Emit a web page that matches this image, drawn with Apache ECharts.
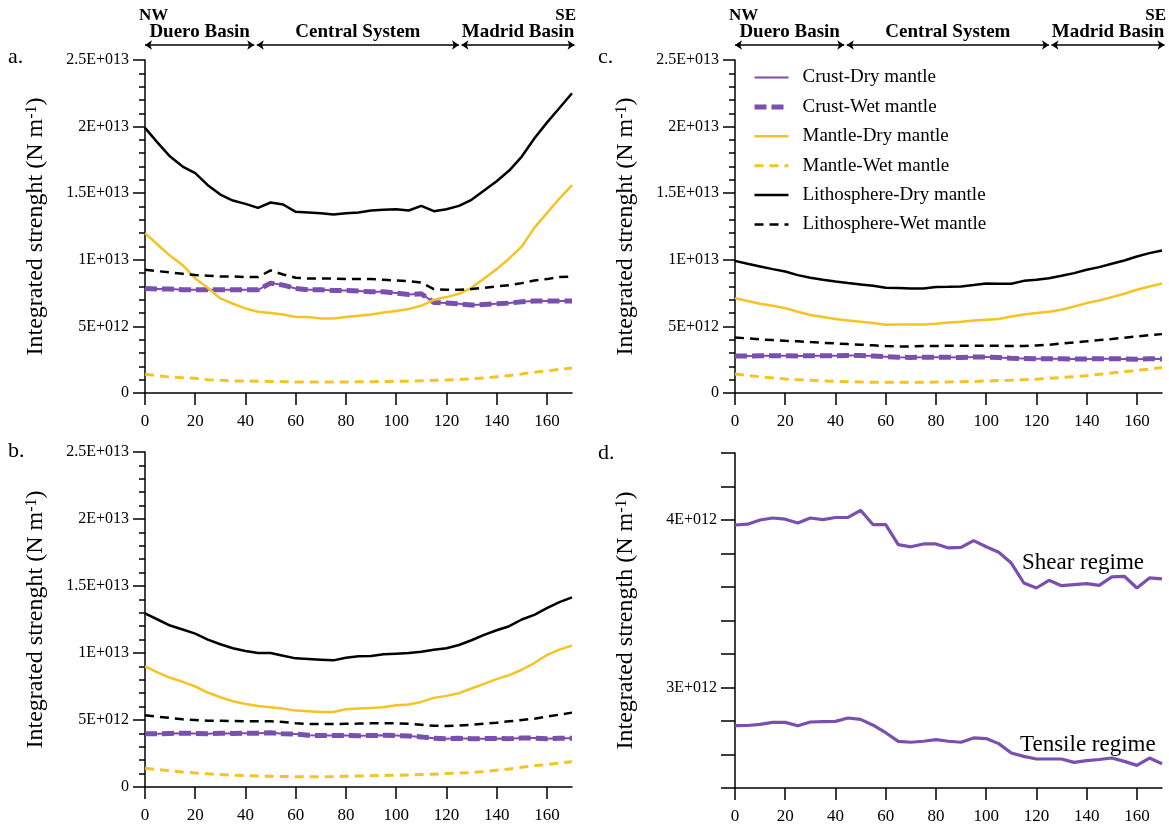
<!DOCTYPE html>
<html><head><meta charset="utf-8">
<script src="https://cdn.jsdelivr.net/npm/echarts@6/dist/echarts.min.js"></script>
<style>html,body{margin:0;padding:0;background:#fff}#c{width:1169px;height:831px}</style>
</head><body><div id="c"></div>
<script>
// ---------- data (strength values in units of 1E+012 N/m) ----------
const distanceKm = [0,5,10,15,20,25,30,35,40,45,50,55,60,65,70,75,80,85,90,95,100,105,110,115,120,125,130,135,140,145,150,155,160,165,170];
const seriesNames = ['Crust-Dry mantle','Crust-Wet mantle','Mantle-Dry mantle','Mantle-Wet mantle','Lithosphere-Dry mantle','Lithosphere-Wet mantle'];

// panel a
const aCrust     = [7.85,7.8,7.8,7.75,7.75,7.75,7.75,7.75,7.75,7.75,8.25,8.1,7.85,7.75,7.75,7.7,7.7,7.65,7.6,7.6,7.5,7.4,7.45,6.8,6.75,6.7,6.6,6.65,6.7,6.75,6.85,6.9,6.9,6.9,6.9];
const aMantleDry = [12.0,11.15,10.3,9.6,8.6,7.9,7.1,6.7,6.35,6.1,6.0,5.9,5.7,5.7,5.6,5.6,5.7,5.8,5.9,6.05,6.15,6.3,6.55,7.0,7.2,7.45,7.9,8.6,9.3,10.1,11.0,12.4,13.5,14.6,15.6];
const aMantleWet = [1.4,1.3,1.2,1.15,1.1,1.0,0.95,0.9,0.9,0.88,0.87,0.85,0.83,0.82,0.82,0.82,0.83,0.84,0.85,0.86,0.87,0.89,0.92,0.95,0.98,1.02,1.07,1.13,1.22,1.32,1.43,1.55,1.66,1.77,1.88];
const aLithDry   = [19.9,18.8,17.75,17.0,16.5,15.6,14.9,14.45,14.2,13.9,14.3,14.15,13.6,13.55,13.5,13.4,13.5,13.55,13.7,13.75,13.8,13.7,14.05,13.65,13.8,14.05,14.5,15.2,15.9,16.7,17.75,19.1,20.3,21.4,22.5];
const aLithWet   = [9.25,9.15,9.05,8.95,8.85,8.8,8.75,8.75,8.7,8.7,9.2,8.9,8.65,8.6,8.6,8.6,8.55,8.55,8.55,8.5,8.45,8.4,8.3,7.8,7.75,7.75,7.8,7.9,8.0,8.1,8.25,8.45,8.55,8.7,8.75];
// panel b
const bCrust     = [3.97,3.97,4.0,4.01,4.0,3.98,4.01,4.0,4.01,4.02,4.04,3.97,3.95,3.86,3.84,3.85,3.85,3.83,3.84,3.86,3.84,3.8,3.74,3.63,3.6,3.63,3.61,3.61,3.62,3.61,3.65,3.65,3.6,3.64,3.64];
const bMantleDry = [9.0,8.55,8.15,7.85,7.5,7.05,6.7,6.4,6.2,6.05,5.95,5.85,5.7,5.65,5.6,5.6,5.8,5.85,5.9,5.95,6.1,6.15,6.35,6.65,6.8,7.0,7.35,7.7,8.05,8.35,8.75,9.25,9.85,10.25,10.55];
const bMantleWet = [1.4,1.3,1.2,1.12,1.05,0.98,0.93,0.88,0.85,0.82,0.8,0.78,0.77,0.77,0.77,0.78,0.8,0.82,0.84,0.86,0.88,0.9,0.93,0.96,1.0,1.04,1.08,1.15,1.25,1.35,1.47,1.58,1.68,1.78,1.89];
const bLithDry   = [12.95,12.5,12.05,11.75,11.45,11.0,10.65,10.35,10.15,10.0,10.0,9.8,9.6,9.55,9.5,9.45,9.65,9.75,9.78,9.9,9.95,10.0,10.1,10.25,10.35,10.6,10.95,11.35,11.7,12.0,12.5,12.85,13.35,13.8,14.15];
const bLithWet   = [5.35,5.25,5.15,5.05,5.0,4.95,4.95,4.92,4.9,4.9,4.9,4.85,4.75,4.7,4.7,4.7,4.72,4.73,4.75,4.75,4.75,4.72,4.65,4.57,4.55,4.58,4.65,4.72,4.8,4.9,5.0,5.1,5.25,5.4,5.55];
// panel c
const cCrust     = [2.78,2.78,2.79,2.8,2.8,2.78,2.8,2.8,2.8,2.82,2.81,2.78,2.73,2.68,2.67,2.68,2.69,2.68,2.67,2.7,2.7,2.67,2.61,2.59,2.57,2.57,2.57,2.55,2.56,2.57,2.58,2.56,2.54,2.58,2.55];
const cMantleDry = [7.12,6.9,6.7,6.55,6.37,6.1,5.85,5.7,5.55,5.45,5.35,5.25,5.12,5.15,5.15,5.15,5.2,5.3,5.35,5.45,5.5,5.55,5.75,5.9,6.0,6.1,6.25,6.5,6.75,6.95,7.2,7.45,7.75,8.0,8.22];
const cMantleWet = [1.42,1.32,1.22,1.13,1.05,1.0,0.95,0.9,0.87,0.85,0.83,0.81,0.8,0.8,0.8,0.81,0.82,0.83,0.85,0.87,0.9,0.93,0.96,1.0,1.04,1.1,1.16,1.23,1.3,1.4,1.5,1.6,1.7,1.8,1.92];
const cLithDry   = [9.92,9.7,9.5,9.3,9.12,8.85,8.65,8.5,8.37,8.25,8.15,8.05,7.9,7.88,7.85,7.85,7.95,7.97,8.0,8.1,8.22,8.2,8.2,8.42,8.5,8.62,8.8,9.0,9.25,9.45,9.7,9.95,10.25,10.5,10.7];
const cLithWet   = [4.17,4.1,4.02,3.97,3.92,3.88,3.82,3.77,3.72,3.67,3.63,3.58,3.52,3.5,3.5,3.52,3.53,3.55,3.55,3.55,3.55,3.55,3.52,3.53,3.57,3.62,3.72,3.8,3.88,3.97,4.05,4.15,4.25,4.35,4.42];
// panel d
const dShear     = [3.97,3.975,4.0,4.012,4.005,3.982,4.012,4.002,4.015,4.016,4.058,3.972,3.972,3.853,3.84,3.857,3.857,3.833,3.837,3.877,3.84,3.807,3.743,3.624,3.594,3.64,3.608,3.614,3.62,3.61,3.66,3.664,3.594,3.654,3.648];
const dTensile   = [2.772,2.773,2.78,2.792,2.792,2.772,2.794,2.796,2.798,2.818,2.81,2.775,2.73,2.678,2.673,2.679,2.689,2.679,2.673,2.699,2.695,2.665,2.609,2.589,2.573,2.573,2.573,2.553,2.563,2.57,2.579,2.559,2.535,2.579,2.545];

// tick labels
const xTickValues = [0,20,40,60,80,100,120,140,160];
const yTickValues = [0,5,10,15,20,25];
const yTickLabels = ['0','5E+012','1E+013','1.5E+013','2E+013','2.5E+013'];
const dTickValues = [3,4];
const dTickLabels = ['3E+012','4E+012'];

// header regions
const regionNames  = ['Duero Basin','Central System','Madrid Basin'];
const regionStarts = [0, 44.5, 126];
const regionEnds   = [43.5, 125, 171];
const panelLetters = ['a.','b.','c.','d.'];

// ---------- styles ----------
const FF = "'Liberation Serif','Times New Roman',serif";
const PURPLE = '#7b4fae';
const YELLOW = '#f5c324';
const lineStyles = {
  'Crust-Dry mantle':       {color: PURPLE, width: 2,   type: 'solid'},
  'Crust-Wet mantle':       {color: PURPLE, width: 5,   type: [12, 5]},
  'Mantle-Dry mantle':      {color: YELLOW, width: 2.5, type: 'solid'},
  'Mantle-Wet mantle':      {color: YELLOW, width: 3,   type: [9, 6]},
  'Lithosphere-Dry mantle': {color: '#000', width: 2.5, type: 'solid'},
  'Lithosphere-Wet mantle': {color: '#000', width: 2.5, type: [9, 6]},
  'Shear regime':           {color: PURPLE, width: 3.2, type: 'solid'},
  'Tensile regime':         {color: PURPLE, width: 3.2, type: 'solid'}
};

const PX_PER_KM = 427 / 170;
const grids = [
  {left: 145 - PX_PER_KM, top: 40, width: PX_PER_KM * 173, height: 10},   // 0 header a
  {left: 145, top: 60, width: 427, height: 333},                          // 1 a
  {left: 145, top: 452, width: 427, height: 335},                         // 2 b
  {left: 735 - PX_PER_KM, top: 40, width: PX_PER_KM * 173, height: 10},   // 3 header c
  {left: 735, top: 60, width: 427, height: 333},                          // 4 c
  {left: 735, top: 453, width: 427, height: 335}                          // 5 d
];

const black = {color: '#000', width: 1.5};
function xAxisMain(gi) {
  return {type: 'value', gridIndex: gi, min: 0, max: 170,
    axisLine: {show: true, onZero: false, lineStyle: black},
    axisTick: {show: true, length: 12, customValues: xTickValues, lineStyle: black},
    axisLabel: {customValues: xTickValues, margin: 20, color: '#000', fontFamily: FF, fontSize: 17},
    splitLine: {show: false}};
}
function xAxisHeader(gi) {
  return {type: 'value', gridIndex: gi, min: -1, max: 172, show: false};
}
function yAxisHeader(gi) {
  return {type: 'value', gridIndex: gi, min: 0, max: 1, show: false};
}
function nameRich(word) {
  return {
    name: '{t|Integrated ' + word + ' (N m}{s|-1}{t|)}',
    nameLocation: 'middle', nameGap: 97, nameRotate: 90,
    nameTextStyle: {color: '#000', fontFamily: FF, fontSize: 24,
      rich: {t: {fontFamily: FF, fontSize: 24, color: '#000'},
             s: {fontFamily: FF, fontSize: 16, color: '#000', verticalAlign: 'top'}}}
  };
}
function yAxisMain(gi) {
  return Object.assign({type: 'value', gridIndex: gi, min: 0, max: 25, interval: 5,
    axisLine: {show: true, lineStyle: black},
    axisTick: {show: true, length: 12, lineStyle: black},
    minorTick: {show: true, splitNumber: 5, length: 6, lineStyle: black},
    splitLine: {show: false}, minorSplitLine: {show: false},
    axisLabel: {margin: 16, color: '#000', fontFamily: FF, fontSize: 16,
      formatter: v => { const i = yTickValues.findIndex(t => Math.abs(t - v) < 1e-6); return i >= 0 ? yTickLabels[i] : ''; }}
  }, nameRich('strenght'));
}
function yAxisD(gi) {
  return Object.assign({type: 'value', gridIndex: gi, min: 2.4, max: 4.4, interval: 0.2,
    axisLine: {show: true, lineStyle: black},
    axisTick: {show: true, length: 14, lineStyle: black},
    splitLine: {show: false},
    axisLabel: {margin: 18, color: '#000', fontFamily: FF, fontSize: 16,
      formatter: v => { const i = dTickValues.findIndex(t => Math.abs(t - v) < 1e-6); return i >= 0 ? dTickLabels[i] : ''; }}
  }, nameRich('strength'));
}

const xAxis = [xAxisHeader(0), xAxisMain(1), xAxisMain(2), xAxisHeader(3), xAxisMain(4), xAxisMain(5)];
const yAxis = [yAxisHeader(0), yAxisMain(1), yAxisMain(2), yAxisHeader(3), yAxisMain(4), yAxisD(5)];

function pairs(arr) { return distanceKm.map((x, i) => [x, arr[i]]); }
function lineSeries(name, axisIdx, arr) {
  const st = lineStyles[name];
  return {type: 'line', name: name, xAxisIndex: axisIdx, yAxisIndex: axisIdx,
    data: pairs(arr), symbol: 'none', showSymbol: false, silent: true,
    lineStyle: Object.assign({}, st),
    itemStyle: {color: st.color},
    animation: false, z: 3};
}
function panelSeries(axisIdx, crust, mDry, mWet, lDry, lWet) {
  const vals = [crust, crust, mDry, mWet, lDry, lWet];
  return seriesNames.map((n, i) => lineSeries(n, axisIdx, vals[i]));
}
function headerSeries(axisIdx) {
  return {type: 'line', xAxisIndex: axisIdx, yAxisIndex: axisIdx, data: [], silent: true, animation: false,
    markLine: {silent: true, animation: false, symbol: ['arrow', 'arrow'], symbolSize: 7,
      lineStyle: {color: '#000', width: 1.5, type: 'solid'},
      emphasis: {disabled: true},
      label: {show: true, position: 'insideMiddleTop', distance: 3, formatter: '{b}',
        fontFamily: FF, fontWeight: 'bold', fontSize: 19, color: '#000'},
      data: regionNames.map((n, i) => [{name: n, coord: [regionStarts[i], 0.5]}, {coord: [regionEnds[i], 0.5]}])}};
}

const series = [].concat(
  [headerSeries(0), headerSeries(3)],
  panelSeries(1, aCrust, aMantleDry, aMantleWet, aLithDry, aLithWet),
  panelSeries(2, bCrust, bMantleDry, bMantleWet, bLithDry, bLithWet),
  panelSeries(4, cCrust, cMantleDry, cMantleWet, cLithDry, cLithWet),
  [lineSeries('Shear regime', 5, dShear), lineSeries('Tensile regime', 5, dTensile)]
);

const titleStyle = {fontFamily: FF, fontSize: 22, fontWeight: 'normal', color: '#000'};
const option = {
  backgroundColor: '#fff',
  animation: false,
  title: [
    {text: panelLetters[0], left: 8, top: 46, textStyle: titleStyle, padding: 0},
    {text: panelLetters[1], left: 8, top: 440, textStyle: titleStyle, padding: 0},
    {text: panelLetters[2], left: 598, top: 46, textStyle: titleStyle, padding: 0},
    {text: panelLetters[3], left: 598, top: 442, textStyle: titleStyle, padding: 0}
  ],
  legend: {data: seriesNames, orient: 'vertical', left: 752, top: 68, padding: 0,
    itemWidth: 34, itemHeight: 14, itemGap: 10.4, selectedMode: false,
    itemStyle: {opacity: 0},
    lineStyle: {width: 'inherit', type: 'inherit', color: 'inherit'},
    textStyle: {fontFamily: FF, fontSize: 19, color: '#000', padding: [0, 0, 0, 9]}},
  grid: grids,
  xAxis: xAxis,
  yAxis: yAxis,
  series: series
};

const chart = echarts.init(document.getElementById('c'), null, {renderer: 'canvas'});
chart.setOption(option);

// NW / SE and regime annotations
const hdrFont = 'bold 17px ' + FF;
const graphics = [];
[0, 3].forEach(gi => {
  const p0 = chart.convertToPixel({gridIndex: gi}, [0, 0.5]);
  const p1 = chart.convertToPixel({gridIndex: gi}, [170, 0.5]);
  graphics.push({type: 'text', x: p0[0] - 6, y: 16, style: {text: 'NW', font: hdrFont, fill: '#000', textAlign: 'left', textVerticalAlign: 'middle'}});
  graphics.push({type: 'text', x: p1[0] + 4, y: 16, style: {text: 'SE', font: hdrFont, fill: '#000', textAlign: 'right', textVerticalAlign: 'middle'}});
});
graphics.push({type: 'text', left: 1022, top: 551, style: {text: 'Shear regime', font: '23px ' + FF, fill: '#000'}});
graphics.push({type: 'text', left: 1020, top: 733, style: {text: 'Tensile regime', font: '23px ' + FF, fill: '#000'}});
chart.setOption({graphic: graphics});
</script>
</body></html>
